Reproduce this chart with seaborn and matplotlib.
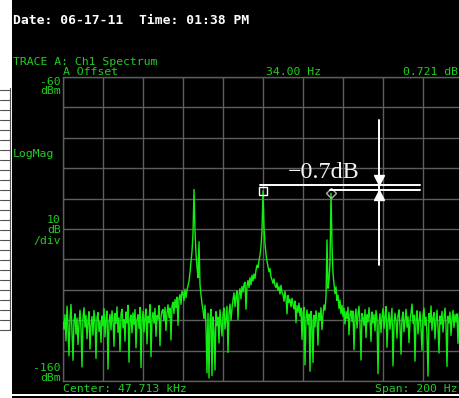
import numpy as np
import pandas as pd
import matplotlib
matplotlib.use("Agg")
import matplotlib.pyplot as plt
import seaborn as sns
from matplotlib.patches import Rectangle
from matplotlib.lines import Line2D

# Analyzer settings
center_khz = 47.713
span_hz = 200
n_points = 401
ref_level_dbm = -60
bottom_level_dbm = -160
db_per_div = 10

# Delta marker readout
delta_hz = 34.00
delta_db = 0.721

# Measured trace, one level per sweep point (dBm)
level_dbm = [
    -140.5, -143.0, -138.2, -146.8, -135.4, -141.9, -151.7, -139.6, -134.8, -143.5,
    -153.2, -140.1, -137.9, -144.6, -139.3, -148.0, -141.2, -136.7, -142.8, -155.4,
    -139.0, -135.9, -142.3, -138.4, -146.1, -140.7, -137.2, -149.5, -141.6, -138.8,
    -144.9, -136.8, -140.2, -152.6, -139.1, -137.5, -143.7, -140.4, -147.3, -138.6,
    -141.8, -136.2, -145.5, -139.4, -137.0, -156.1, -140.6, -138.1, -143.2, -136.9,
    -139.7, -148.6, -137.8, -141.1, -135.6, -144.0, -139.2, -150.3, -138.0, -136.4,
    -142.5, -139.8, -146.9, -137.3, -140.9, -135.1, -153.8, -139.5, -138.3, -144.2,
    -137.6, -141.4, -136.5, -149.1, -139.9, -138.2, -142.7, -135.8, -155.6, -140.3,
    -137.1, -143.9, -139.0, -136.3, -147.8, -138.7, -140.8, -134.9, -152.0, -139.4,
    -137.4, -141.0, -136.1, -145.3, -138.5, -139.6, -135.2, -148.4, -138.9, -137.0,
    -136.5, -140.2, -135.8, -143.4, -137.6, -134.9, -139.1, -136.0, -146.5, -135.3,
    -134.1, -137.8, -133.2, -135.9, -132.4, -141.7, -133.0, -131.5, -134.8, -130.6,
    -131.2, -133.5, -129.8, -132.6, -130.1, -128.7, -127.2, -124.3, -121.0, -117.4,
    -111.5, -97.0, -110.8, -118.2, -122.5, -126.0, -114.2, -128.3, -131.7, -134.6,
    -136.8, -139.5, -135.1, -142.0, -157.3, -137.7, -159.0, -140.2, -136.4, -158.2,
    -138.9, -143.6, -156.4, -137.2, -141.8, -139.0, -147.5, -136.6, -140.7, -145.2,
    -138.1, -136.0, -142.9, -139.3, -135.4, -150.6, -137.8, -134.7, -140.1, -136.2,
    -133.3, -131.0, -135.6, -132.2, -130.4, -139.8, -131.5, -129.6, -133.0, -128.9,
    -130.7, -128.2, -127.5, -136.4, -128.8, -126.9, -129.3, -126.0, -128.4, -125.2,
    -127.1, -124.8, -126.3, -123.5, -121.9, -122.7, -120.4, -118.6, -115.8, -110.3,
    -97.5, -109.6, -114.9, -118.3, -120.6, -122.4, -124.1, -123.0, -125.8, -126.7,
    -127.9, -126.4, -128.6, -129.3, -127.7, -130.2, -129.0, -131.4, -128.5, -130.9,
    -131.6, -133.8, -130.5, -132.7, -137.9, -131.9, -134.2, -133.1, -135.6, -132.8,
    -134.9, -136.3, -133.7, -140.8, -135.2, -137.4, -134.4, -138.6, -136.0, -146.3,
    -137.5, -135.8, -154.7, -139.2, -136.6, -141.5, -138.0, -156.8, -137.1, -140.6,
    -153.9, -138.4, -142.2, -136.9, -139.7, -148.2, -137.6, -140.0, -135.9, -143.1,
    -138.2, -135.0, -136.7, -132.4, -113.6, -129.5, -126.8, -121.0, -98.221, -115.0,
    -124.6, -128.1, -131.3, -129.0, -133.5, -131.8, -136.2, -133.4, -137.9, -135.1,
    -138.7, -136.0, -141.3, -137.2, -139.5, -135.7, -144.8, -138.1, -136.9, -140.4,
    -137.0, -149.7, -139.1, -136.3, -142.6, -138.5, -135.4, -140.9, -153.1, -137.8,
    -139.3, -141.8, -136.5, -145.7, -138.2, -140.6, -135.9, -139.8, -147.0, -137.3,
    -140.9, -138.1, -143.5, -136.8, -139.7, -157.6, -141.2, -137.9, -144.1, -139.0,
    -136.2, -142.7, -138.6, -135.5, -148.9, -140.3, -137.4, -143.0, -139.5, -136.1,
    -155.0, -141.6, -137.7, -140.0, -145.9, -138.4, -136.6, -141.9, -151.2, -139.4,
    -137.3, -143.8, -139.9, -136.4, -142.3, -138.8, -147.4, -140.5, -137.6, -134.7,
    -141.0, -138.3, -153.5, -139.6, -136.9, -144.5, -140.1, -137.2, -142.8, -149.9,
    -138.5, -136.1, -141.7, -139.0, -144.6, -158.4, -137.8, -140.7, -135.3, -143.3,
    -139.2, -137.5, -146.2, -140.4, -136.7, -142.1, -150.8, -138.6, -141.3, -137.1,
    -143.9, -139.4, -136.0, -141.5, -155.2, -138.7, -140.9, -137.3, -145.0, -139.8,
    -136.8, -142.4, -138.1, -140.6, -137.9, -147.6, -139.3, -135.7, -141.8, -138.4,
    -140.2,
]

# Sweep points relative to the center frequency (Hz)
freq_offset = np.linspace(-span_hz / 2, span_hz / 2, n_points)
trace = pd.DataFrame({"offset_hz": freq_offset, "level_dbm": level_dbm})

GREEN_TEXT = "#22cc22"
GREEN_TRACE = "#12ee12"
GRID = "#5e5e5e"
MONO = ["DejaVu Sans Mono"]

sns.set_theme(style="dark", rc={"axes.facecolor": "black", "figure.facecolor": "black"})
plt.rcParams["font.family"] = ["DejaVu Sans Mono", "DejaVu Sans"]

W, H = 459, 398
fig = plt.figure(figsize=(W / 100, H / 100), dpi=100, facecolor="black")


def fx(px):
    return px / W


def fy(py):
    return 1 - py / H


# Paper strip on the left edge with the ruled table
fig.add_artist(Rectangle((0, 0), fx(12), 1, transform=fig.transFigure,
                         facecolor="white", edgecolor="none", zorder=0))
for yy in range(90, 331, 10):
    fig.add_artist(Line2D([0, fx(10)], [fy(yy), fy(yy)], transform=fig.transFigure,
                          color="#505050", lw=0.8))
fig.add_artist(Line2D([fx(10), fx(10)], [fy(88), fy(330)], transform=fig.transFigure,
                      color="#505050", lw=0.8))
# Bottom rule
fig.add_artist(Rectangle((fx(12), fy(396.3)), 1 - fx(12), 2.0 / H, transform=fig.transFigure,
                         facecolor="white", edgecolor="none"))

# Spectrum display: 10 divisions each way, the right edge runs off the screen
ax = fig.add_axes([fx(63), fy(381), 400 / W, 304 / H])
ax.set_facecolor("black")
sns.lineplot(data=trace, x="offset_hz", y="level_dbm", ax=ax, color=GREEN_TRACE,
             linewidth=1.0, estimator=None, sort=False, legend=False, zorder=3)
ax.set_xlim(-span_hz / 2, span_hz / 2)
ax.set_ylim(bottom_level_dbm, ref_level_dbm)
ax.set_xticks(np.linspace(-span_hz / 2, span_hz / 2, 11))
ax.set_yticks(np.arange(bottom_level_dbm, ref_level_dbm + 1, db_per_div))
ax.tick_params(length=0, labelbottom=False, labelleft=False)
ax.set_xlabel("")
ax.set_ylabel("")
ax.grid(True, color=GRID, lw=1.0)
for sp in ax.spines.values():
    sp.set_color(GRID)
    sp.set_linewidth(1.0)

# Markers: reference on the carrier (center), delta on the upper sideband
lv = np.asarray(level_dbm)
i_ref = int(np.argmin(np.abs(freq_offset)))
i_delta = int(np.argmin(np.abs(freq_offset - (freq_offset[i_ref] + delta_hz))))
ax.plot(freq_offset[i_ref], lv[i_ref], marker="s", ms=6.3, mfc="none", mec="white",
        mew=1.0, zorder=5)
ax.plot(freq_offset[i_delta], lv[i_delta], marker="D", ms=5.5, mfc="none", mec="#b0b0b0",
        mew=1.0, zorder=5)

# Level-difference annotation
upper_db = -95.5
lower_db = -97.3
bar_x = 58.2
ax.plot([-1.5, 78.5], [upper_db, upper_db], color="white", lw=1.4, zorder=6)
ax.plot([33.5, 78.5], [lower_db, lower_db], color="white", lw=1.4, zorder=6)
ax.plot([bar_x, bar_x], [-74.1, -121.8], color="white", lw=1.4, zorder=6)
ax.plot(bar_x, upper_db + 1.65, marker="v", ms=7.0, color="white", mec="white", zorder=7)
ax.plot(bar_x, lower_db - 1.6, marker="^", ms=7.0, color="white", mec="white", zorder=7)
ax.text(30.2, -93.2, "\u22120.7dB", color="#f2f2f2", fontsize=17.3,
        family=["Liberation Serif", "DejaVu Serif"], ha="center", va="baseline", zorder=7)

# Screen header and labels
fig.text(fx(13), fy(24), "Date: 06-17-11  Time: 01:38 PM", color="white",
         fontsize=9.4, fontweight="bold", family=MONO, ha="left", va="baseline")
small = dict(color=GREEN_TEXT, fontsize=8.25, family=MONO, va="baseline")
fig.text(fx(13), fy(65), "TRACE A: Ch1 Spectrum", ha="left", **small)
fig.text(fx(63), fy(75), "A Offset", ha="left", **small)
fig.text(fx(266), fy(75), f"{delta_hz:.2f} Hz", ha="left", **small)
fig.text(fx(403), fy(75), f"{delta_db:.3f} dB", ha="left", **small)
fig.text(fx(60.5), fy(85), f"{ref_level_dbm}", ha="right", **small)
fig.text(fx(60.5), fy(94), "dBm", ha="right", **small)
fig.text(fx(12.5), fy(156.7), "LogMag", ha="left", **small)
fig.text(fx(60.5), fy(223.3), f"{db_per_div}", ha="right", **small)
fig.text(fx(60.5), fy(233.3), "dB", ha="right", **small)
fig.text(fx(60.5), fy(244), "/div", ha="right", **small)
fig.text(fx(60.5), fy(370.7), f"{bottom_level_dbm}", ha="right", **small)
fig.text(fx(60.5), fy(380.7), "dBm", ha="right", **small)
fig.text(fx(63), fy(391.7), f"Center: {center_khz:.3f} kHz", ha="left", **small)
fig.text(fx(375), fy(391.7), f"Span: {span_hz} Hz", ha="left", **small)

fig.savefig("out.png", dpi=100, facecolor="black")
